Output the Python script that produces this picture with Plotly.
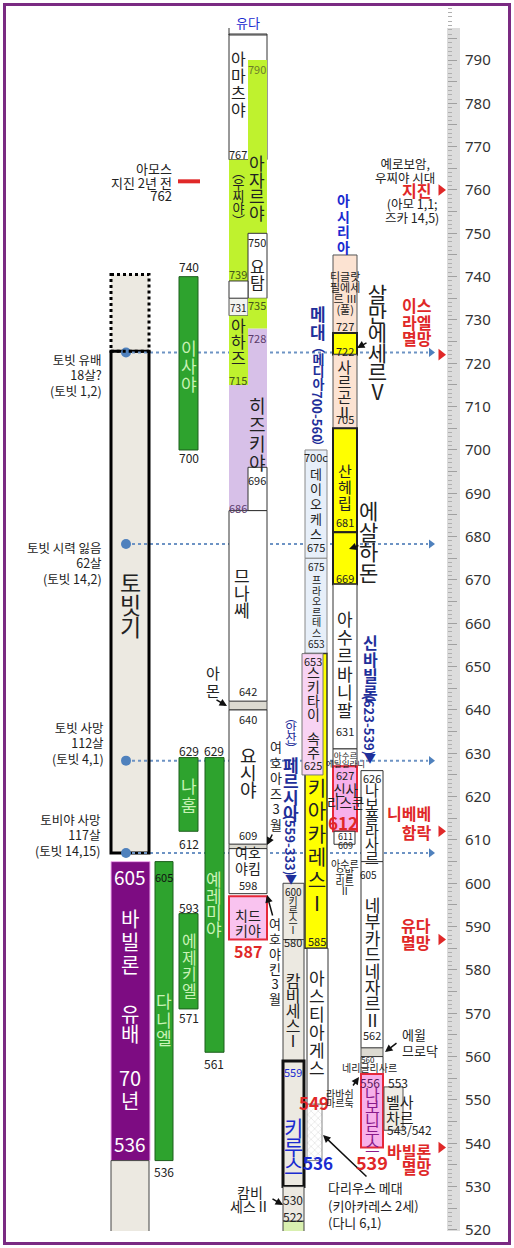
import plotly.graph_objects as go

FONT = "Noto Sans CJK KR"
NUMFONT = "Noto Sans"

# ================= DATA (years BC) =================
tobit_from = [740.5, 722.8]            # before exile (dotted), book of Tobit
tobit_to = [722.8, 607]
tobit_event_years = [722.5, 678.3, 628.3, 607]
tobit_event_text = [["토빗 유배", "18살?", "(토빗 1,2)"],
                    ["토빗 시력 잃음", "62살", "(토빗 14,2)"],
                    ["토빗 사망", "112살", "(토빗 4,1)"],
                    ["토비야 사망", "117살", "(토빗 14,15)"]]

exile_from = [605, 536]
exile_to = [536, 515]

prophet_names = ["이사야", "나훔", "예레미야", "다니엘", "에제키엘"]
prophet_from = [740, 629, 629, 605, 593]
prophet_to = [700, 612, 561, 536, 571]

judah_names = ["아마츠야", "우찌야", "우찌야", "요탐", "요탐", "아하즈", "아하즈", "아하즈",
               "히즈키야", "히즈키야", "므나쎄", "므나쎄", "아몬", "요시야", "여호아하즈",
               "여호야킴", "치드키야"]
judah_from = [796, 790, 767, 750, 739, 735, 735, 731, 728, 715, 696, 686, 642, 640, 609, 608, 597]
judah_to = [767, 750, 739, 735, 735, 731, 728, 715, 696, 686, 686, 642, 640, 609, 608, 597.6, 587]

persia_names = ["키루스 1세", "캄비세스 1세", "키루스 2세", "캄비세스 2세", "바르디야"]
persia_from = [600, 587, 559, 530, 522]
persia_to = [587, 559, 530, 522, 515]

media_names = ["데이오케스", "프라오르테스", "키아카레스 1세", "스키타이 속주", "아스티아게스", "다리우스 메대"]
media_from = [700, 675, 653, 653, 585, 549]
media_to = [675, 653, 585, 625, 549, 536]

assyria_names = ["티글랏필에세르 3세", "살만에세르 5세", "사르곤 2세", "산헤립", "에살하돈",
                 "아수르바니팔", "아수르에틸일라니", "신사리스쿤", "아수르우발리트 2세"]
assyria_from = [745, 727, 722, 705, 681, 669, 631, 627, 612]
assyria_to = [727, 722, 705, 681, 669, 631, 627, 612, 609]

babylon_names = ["나보폴라사르", "네부카드네자르 2세", "에윌므로닥", "네리글리사르", "나보니두스", "벨사차르"]
babylon_from = [626, 605, 562, 560, 556, 553]
babylon_to = [605, 562, 560, 556, 539, 543]

event_years = [760, 722, 612, 587, 539]
amos_quake_year = 762

ruler_from, ruler_to = 797.4, 515
ruler_ticks = list(range(520, 800, 5))
ruler_labels = [str(v) if v % 10 == 0 else "" for v in ruler_ticks]

# ================= LAYOUT / STYLE =================
W, H = 514, 1248
K = 4.333            # px per year
PY790 = 60           # pixel row of year 790
PLOT_TOP, PLOT_BOT = 8, 1231
XR = 460             # right edge of plot area (px); x axis is in px


def Y(py):
    return 790 - (py - PY790) / K


C_TOBIT = (111, 149); C_EXILE = (111, 150)
C_DAN = (155, 173); C_PRO = (179, 198); C_JER = (205, 224)
C_JF = (229, 267); C_JL = (229, 248); C_JR = (248, 267)
C_PER = (283, 304); C_MED = (305, 327); C_SCY = (302, 323); C_AST = (307, 328); C_HAT = (307, 322)
C_ASY = (333, 357); C_ASY2 = (334, 355); C_BAB = (361, 383); C_BEL = (384, 403); C_RUL = (447, 460)

WHITE = ("white", "#333", 1)
GRN = ("#bff22e", "#bff22e", 0)
LIL = ("#d7c0e8", "#d7c0e8", 0)
GRY = ("#dcdad1", "#555", 1)
CO = ("#f3f3ef", "#555", 1)
PINK = ("#f9c3ef", "#e5283a", 2)
PINK2 = ("#f7b0ea", "#e5283a", 2)
BEIGE = ("#ece9e1", "#444", 1)
CYRUS = ("#ece9e1", "#111", 3)
BARD = ("#d9f0b0", "#444", 1)
LBLUE = ("#e7eff9", "#8a8a8a", 1)
YEL = ("#ffff00", "#333", 1.5)
YELB = ("#ffff00", "#222", 2)
SCY = ("#f8d3f3", "#777", 1)
PEACH = ("#fce3d2", "#555", 1)
PGREEN = ("#2ea32e", "#1d5e1d", 1)
PURPLE = ("#7d0c82", "#f0b0f0", 1)
LIGHT = "#c9f2b6"
RED = "#e02828"
BLUE = "#1a2bd0"
NAVY = "#1f2f9a"

fig = go.Figure()


def bar(col, y_from, y_to, style, pattern=None):
    x0, x1 = col
    fill, lc, lw = style
    m = dict(color=fill, line=dict(color=lc, width=lw))
    if pattern:
        m["pattern"] = pattern
    fig.add_trace(go.Bar(x=[(x0 + x1) / 2], y=[y_from - y_to], base=[y_to], width=[x1 - x0],
                         marker=m, hoverinfo="skip", showlegend=False))


# ruler strip
bar(C_RUL, ruler_from, ruler_to, ("#dcdcdc", "#dcdcdc", 0))

# Tobit
bar(C_TOBIT, tobit_from[0], tobit_to[0], ("#ece9e1", "#ece9e1", 0))
bar(C_TOBIT, tobit_from[1], tobit_to[1], ("#ece9e1", "#000", 3))
# exile
bar(C_EXILE, exile_from[0], exile_to[0], PURPLE)
bar(C_TOBIT, exile_from[1], exile_to[1], BEIGE)
# prophets
prophet_cols = [C_PRO, C_PRO, C_JER, C_DAN, C_PRO]
for f, t, c in zip(prophet_from, prophet_to, prophet_cols):
    bar(c, f, t, PGREEN)

# Judah
judah_cols = [C_JF, C_JR, C_JL, C_JR, C_JL, C_JL, C_JR, C_JL, C_JR, C_JL, C_JR, C_JF, C_JF, C_JF, C_JF, C_JF, C_JF]
judah_style = [WHITE, GRN, GRN, WHITE, WHITE, CO, GRN, GRN, LIL, LIL, WHITE, WHITE, GRY, WHITE, GRY, WHITE, PINK]
for f, t, c, s in zip(judah_from, judah_to, judah_cols, judah_style):
    bar(c, f, t, s)

# Persia
persia_style = [BEIGE, BEIGE, CYRUS, BEIGE, BARD]
for f, t, s in zip(persia_from, persia_to, persia_style):
    bar(C_PER, f, t, s)

# Media
media_cols = [C_MED, C_MED, C_MED, C_SCY, C_AST, C_HAT]
media_style = [LBLUE, LBLUE, YEL, SCY, WHITE, ("white", "#888", 1)]
for i, (f, t, c, s) in enumerate(zip(media_from, media_to, media_cols, media_style)):
    pat = dict(shape="x", fgcolor="#9a9a9a", size=5, solidity=0.15) if i == 5 else None
    bar(c, f, t, s, pat)

# Assyria
assyria_cols = [C_ASY] * 8 + [C_ASY2]
assyria_style = [PEACH, YELB, PEACH, YELB, YELB, WHITE, WHITE, PINK2, WHITE]
for f, t, c, s in zip(assyria_from, assyria_to, assyria_cols, assyria_style):
    bar(c, f, t, s)

# Neo-Babylon
babylon_cols = [C_BAB] * 5 + [C_BEL]
babylon_style = [WHITE, WHITE, GRY, WHITE, PINK2, ("#efece4", "#555", 1)]
for f, t, c, s in zip(babylon_from, babylon_to, babylon_cols, babylon_style):
    bar(c, f, t, s)

# Tobit event guide lines (below bars) + visible part over the Tobit box
shapes = []
for y in tobit_event_years:
    shapes.append(dict(type="line", xref="x", yref="y", x0=126, x1=428, y0=y, y1=y, layer="below",
                       line=dict(color="#6d93c4", width=2, dash="dot")))
    fig.add_trace(go.Scatter(x=[126, 150], y=[y, y], mode="lines", hoverinfo="skip", showlegend=False,
                             line=dict(color="#6d93c4", width=2, dash="dot")))
fig.add_trace(go.Scatter(x=[126] * len(tobit_event_years), y=tobit_event_years, mode="markers",
                         marker=dict(size=10, color="#4f81bd"), hoverinfo="skip", showlegend=False))
fig.add_trace(go.Scatter(x=[431] * len(tobit_event_years), y=tobit_event_years, mode="markers",
                         marker=dict(size=8, color="#4f81bd", symbol="triangle-right"),
                         hoverinfo="skip", showlegend=False))
# red event markers
fig.add_trace(go.Scatter(x=[441] * len(event_years), y=event_years, mode="markers",
                         marker=dict(size=10, color=RED, symbol="triangle-right"),
                         hoverinfo="skip", showlegend=False))
# Amos earthquake dash
fig.add_trace(go.Scatter(x=[178, 200], y=[amos_quake_year] * 2, mode="lines",
                         line=dict(color=RED, width=4), hoverinfo="skip", showlegend=False))

# dotted outline of Tobit before exile
shapes.append(dict(type="rect", xref="x", yref="y", x0=C_TOBIT[0], x1=C_TOBIT[1],
                   y0=tobit_from[0], y1=tobit_to[0], line=dict(color="#000", width=3, dash="dot")))
# Judah header bracket
shapes.append(dict(type="line", xref="x", yref="y", x0=229, x1=229, y0=Y(28), y1=Y(35),
                   line=dict(color="#333", width=1)))
shapes.append(dict(type="line", xref="x", yref="y", x0=229, x1=267, y0=Y(35), y1=Y(35),
                   line=dict(color="#333", width=1)))
# frame
ph = PLOT_BOT - PLOT_TOP
shapes.append(dict(type="rect", xref="paper", yref="paper", x0=4.5 / W, x1=509.5 / W,
                   y0=(PLOT_BOT - 1243.5) / ph, y1=(PLOT_BOT - 4.5) / ph,
                   line=dict(color="#7a2a82", width=3)))

ann = []


def T(text, x, py, size=12, color="#222", bold=False, xanchor="center", angle=0, family=FONT):
    if bold:
        text = "<b>" + text + "</b>"
    ann.append(dict(text=text, x=x, y=Y(py), xref="x", yref="y", showarrow=False,
                    xanchor=xanchor, yanchor="middle", textangle=angle,
                    font=dict(size=size, color=color, family=family)))


def ML(lines, x, py0, dy, size, color="#222", bold=False, xanchor="center"):
    """Multi-line text block: lines spaced dy px, glyphs of given size."""
    parts = []
    for ln in lines:
        s = "<span style='font-size:%spx'>%s</span>" % (size, ln)
        if bold:
            s = "<b>" + s + "</b>"
        parts.append(s)
    n = len(lines)
    ann.append(dict(text="<br>".join(parts), x=x, y=Y(py0 + (n - 1) * dy / 2), xref="x", yref="y",
                    showarrow=False, xanchor=xanchor, yanchor="middle", align=xanchor,
                    font=dict(size=dy / 1.3, color=color, family=FONT)))


def V(chars, x, py0, dy, size, color="#222", bold=False):
    ML(list(chars), x, py0, dy, size, color, bold)


def A(x, py, ax, apy, color="#111"):
    ann.append(dict(text="", x=x, y=Y(py), ax=ax, ay=Y(apy), xref="x", yref="y", axref="x", ayref="y",
                    showarrow=True, arrowhead=2, arrowsize=1, arrowwidth=1.5, arrowcolor=color))


# left side
ML(["아모스", "지진 2년 전", "762"], 174, 168, 13.5, 13, xanchor="right")
tobit_label_py = [360, 548, 728, 820]
tobit_label_x = [104, 104, 106, 103]
for lines, py, x in zip(tobit_event_text, tobit_label_py, tobit_label_x):
    ML(lines, x, py, 15.3, 12.5, xanchor="right")
V("토빗기", 130, 582, 22, 23)

# prophets
T("740", 189, 266, 12); V(prophet_names[0], 189, 347, 18, 17, LIGHT); T("700", 189, 457, 12)
T("629", 189, 750, 12); V(prophet_names[1], 189, 785, 19, 17, LIGHT); T("612", 189, 843, 12)
T("629", 214, 750, 12); V(prophet_names[2], 214, 879, 16.5, 17, LIGHT); T("561", 214, 1063, 12)
T("605", 164, 877, 11, "#111"); V(prophet_names[3], 164, 1000, 18.5, 17, LIGHT); T("536", 164, 1171, 12)
T("593", 189, 907, 12); V(prophet_names[4], 189, 940, 16.7, 16, LIGHT); T("571", 189, 1017, 12)

# exile
T("605", 130, 876, 19, "white")
V("바빌론", 130, 918, 23, 20, "white")
V("유배", 130, 1013, 20, 20, "white")
ML(["70", "년"], 130, 1077, 23, 20, "white")
T("536", 130, 1143, 19, "white")

# Judah
T("유다", 248, 22, 13, BLUE)
V("아마츠야", 238, 58, 17, 16); T("767", 238, 154, 11)
T("790", 257, 69, 11, "#6d7d2a")
V(["︵", "우", "찌", "야", "︶"], 238, 171, 12, 13)
V("아자르야", 257, 163, 16.5, 17)
T("750", 257, 242, 11); V("요탐", 257, 266, 16, 16)
T("739", 238, 274, 11, "#44551a"); T("731", 238, 307, 10); T("735", 257, 305, 11, "#44551a")
V("아하즈", 238, 325, 16, 16); T("728", 257, 338, 11, "#5a3a6a")
T("715", 238, 380, 11, "#44551a")
V("히즈키야", 257, 405, 19, 18)
T("696", 257, 480, 11); T("686", 238, 508, 11, "#5a3a6a")
V("므나쎄", 242, 575, 17, 17)
T("642", 248, 691, 11); T("640", 248, 719, 11)
V("요시야", 248, 755, 17, 18)
T("609", 248, 835, 11)
ML(["여호", "야킴"], 248, 852, 16, 14)
T("598", 248, 885, 11)
ML(["치드", "키야"], 248, 915, 15, 14)
T("587", 248, 951, 16, RED, True)
V("아몬", 213, 672, 18, 15); A(227, 706, 215, 699)
V(["여", "호", "아", "즈", "3", "월"], 276, 747, 15.5, 13); A(267, 845, 273, 833)
V(["여", "호", "야", "킨", "3", "월"], 275, 923, 15, 13); A(267, 895, 273, 917)

# Persia
V(["︵", "안", "산", "︶"], 291, 717, 10.5, 12, NAVY)
V("페르시아", 291, 764, 16, 17, NAVY, True)
T("(559-333)", 291, 845, 13, NAVY, True, angle=90)
T("▼", 291, 878, 12, NAVY)
T("600", 293, 891, 10); V(["키", "루", "스", "Ⅰ"], 293, 901, 9.5, 10)
T("580", 293, 942, 11); V(["캄", "비", "세", "스", "Ⅰ"], 293, 980, 15, 16)
T("559", 293, 1072, 11, BLUE); V("키루스", 293, 1127, 19, 21, BLUE)
T("530", 293, 1199, 12); T("522", 293, 1216, 12)
ML(["캄비", "세스Ⅱ"], 250, 1192, 14, 14); A(283, 1205, 271, 1198)

# Media
V("메대", 318, 313, 18, 17, NAVY, True)
V(["︵", "메", "디", "아"], 318, 346, 12.5, 13, NAVY, True)
T("700-560", 318, 416, 13, NAVY, True, angle=90)
T("︶", 318, 445, 12, NAVY, True)
T("700c", 316, 457, 11); V("데이오케스", 316, 473, 15, 13); T("675", 316, 547, 11)
T("675", 316, 566, 10); V("프라오르테스", 316, 579, 10.6, 10); T("653", 316, 643, 10)
T("653", 313, 661, 11); V("스키타이", 313, 672, 14, 14); V("속주", 313, 738, 14, 14); T("625", 313, 765, 11)
V(["키", "아", "카", "레", "스", "Ⅰ"], 317, 787, 23, 20); T("585", 317, 941, 11)
V("아스티아게스", 317, 977, 18, 17)
T("549", 314, 1102, 17, RED, True)
T("536", 318, 1162, 17, BLUE, True)
ML(["다리우스 메대", "(키아카레스 2세)", "(다니 6,1)"], 326, 1187, 17.5, 13, xanchor="left")
A(323, 1135, 368, 1178)

# Assyria
V("아시리아", 343, 200, 15.7, 14, BLUE, True)
ML(["티글랏", "필에세", "르 Ⅲ", "(풀)"], 345, 276, 11, 11)
T("727", 345, 326, 11)
T("722", 345, 351, 11)
V(["사", "르", "곤", "Ⅱ"], 344, 366, 15, 15); T("705", 345, 419, 11)
V("산헤립", 345, 470, 16, 15); T("681", 345, 522, 11)
T("669", 345, 578, 11)
V("아수르바니팔", 345, 618, 18.2, 17); T("631", 345, 731, 11)
ML(["아수르", "에틸일라니"], 345, 755, 7.5, 8.5)
T("627", 345, 775, 11); ML(["신사", "리스쿤"], 345, 789, 13, 13.5)
T("612", 343, 822, 17, RED, True)
ML(["611", "609"], 345, 836, 9, 9)
ML(["아수르", "우발", "리트", "Ⅱ"], 345, 863, 9, 10)
V(["살", "만", "에", "세", "르", "Ⅴ"], 377, 293, 19.5, 21)
A(357, 348, 368, 342)
V("에살하돈", 368, 510, 20.5, 21)
A(349, 549, 360, 545)

# Neo-Babylon
V("신바빌론", 370, 642, 16.5, 16, NAVY, True)
T("(623-539)", 370, 725, 13, NAVY, True, angle=90)
T("▼", 370, 757, 12, NAVY)
T("626", 372, 778, 11); V("나보폴라사르", 372, 789, 13.6, 15)
T("605", 368, 874, 10)
V(["네", "부", "카", "드", "네", "자", "르", "Ⅱ"], 372, 905, 16.4, 17); T("562", 372, 1035, 11)
T("560", 368, 1059, 8)
T("556", 370, 1082, 12, "#5a1a5a"); V("나보니두스", 372, 1093, 13, 16, "#8a1a8a")
T("539", 372, 1162, 18, RED, True)
T("553", 398, 1082, 12); ML(["벨사", "차르"], 400, 1101, 16, 15); T("543/542", 409, 1129, 12)
T("에윌", 414, 1034, 13); T("므로닥", 420, 1050, 13); A(385, 1052, 398, 1042)
T("네리글리사르", 369, 1067, 10)
ML(["라바쉬", "마르둑"], 340, 1093, 9, 10); A(359, 1077, 352, 1087)

# right-side events
ML(["예로보암,", "우찌야 시대"], 405, 163, 14, 12.5)
T("지진", 416, 190, 16, RED, True)
ML(["(아모 1,1;", "즈카 14,5)"], 412, 203, 14, 12.5)
ML(["이스", "라엘", "멸망"], 417, 305, 16.5, 16, RED, True)
ML(["니베베", "함락"], 433, 813, 19, 16, RED, True, "right")
ML(["유다", "멸망"], 433, 925, 17, 16, RED, True, "right")
ML(["바빌론", "멸망"], 433, 1151, 16, 16, RED, True, "right")

fig.update_layout(
    width=W, height=H, margin=dict(l=0, r=0, t=PLOT_TOP, b=H - PLOT_BOT),
    paper_bgcolor="white", plot_bgcolor="white", barmode="overlay", showlegend=False,
    xaxis=dict(range=[0, XR], domain=[0, XR / W], visible=False, fixedrange=True),
    yaxis=dict(range=[Y(PLOT_BOT), Y(PLOT_TOP)], anchor="free", position=C_RUL[0] / W, side="right",
               tickvals=ruler_ticks, ticktext=ruler_labels, ticks="outside", ticklen=9,
               tickcolor="#a0a0a0", tickwidth=1, ticklabelstandoff=5,
               minor=dict(dtick=1, tick0=520, ticks="outside", ticklen=4, tickcolor="#b0b0b0"),
               showgrid=False, zeroline=False, showline=False, fixedrange=True,
               tickfont=dict(size=15, color="#333", family=NUMFONT)),
    shapes=shapes, annotations=ann,
)

fig.write_html("out.html", config={"displayModeBar": False},
               post_script="document.body.style.margin='0px';")
